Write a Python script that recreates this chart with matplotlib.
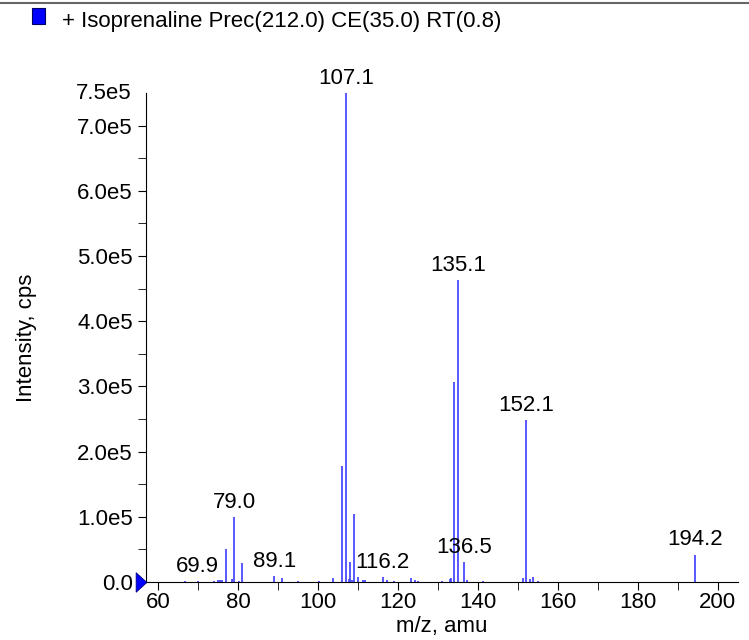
import matplotlib
matplotlib.use('Agg')
import matplotlib.pyplot as plt
from matplotlib.patches import Rectangle
from matplotlib.lines import Line2D

plt.rcParams['font.family'] = ['Liberation Sans', 'DejaVu Sans']

title = '+ Isoprenaline Prec(212.0) CE(35.0) RT(0.8)'

# peak list (m/z, intensity in cps)
mz = [66.8, 69.9, 74.0, 75.0, 75.6, 76.0, 77.0, 78.4, 79.0, 80.2, 81.0,
      89.1, 91.0, 95.0, 100.3, 103.8, 106.1, 107.1, 107.8, 108.1, 108.4,
      109.1, 110.1, 111.3, 111.8, 116.2, 117.2, 119.0, 123.2, 124.3, 125.0,
      131.1, 133.0, 133.3, 134.1, 135.1, 136.5, 137.2, 141.2, 151.2, 152.1,
      153.0, 153.8, 155.1, 194.2]
inten = [1500, 1800, 1500, 2500, 3000, 2500, 50000, 4000, 100000, 1800, 29000,
         9000, 5500, 2000, 1500, 5500, 178000, 750000, 5000, 31000, 3500,
         105000, 7000, 3500, 3000, 8000, 2500, 1500, 5500, 2500, 2000,
         2000, 4000, 6000, 307000, 463000, 31000, 3500, 2000, 6500, 249000,
         4000, 8000, 2000, 42000]

labels = ['69.9', '79.0', '89.1', '107.1', '116.2', '135.1', '136.5', '152.1', '194.2']
label_mz = [69.9, 79.0, 89.1, 107.1, 116.2, 135.1, 136.5, 152.1, 194.2]
label_y = [1800, 100000, 9000, 750000, 8000, 463000, 31000, 249000, 42000]

fs = 16

fig = plt.figure(figsize=(7.49, 6.4), dpi=100)
ax = fig.add_axes([0.195, 0.0906, 0.79, 0.764])

ax.vlines(mz, 0, inten, color='#4a4aff', lw=1.3)
for t, x, y in zip(labels, label_mz, label_y):
    ax.annotate(t, (x, y), xytext=(0, 3), textcoords='offset points',
                ha='center', va='bottom', fontsize=fs)

ax.set_xlim(57, 205)
ax.set_ylim(0, 750000)
ax.spines['top'].set_visible(False)
ax.spines['right'].set_visible(False)

ax.set_xticks(range(60, 201, 20))
ax.set_xticks(range(60, 205, 10), minor=True)
yt = [i * 100000 for i in range(8)]
ax.set_yticks(yt)
ax.set_yticklabels(['0.0'] + ['%.1fe5' % (v / 1e5) for v in yt[1:]])
ax.set_yticks([i * 50000 for i in range(15)], minor=True)
ax.tick_params(labelsize=fs, length=6, direction='out')
ax.tick_params(axis='x', pad=1)
ax.tick_params(which='minor', length=6)
ax.text(-0.024, 1.0, '7.5e5', transform=ax.transAxes, ha='right', va='center', fontsize=fs)

ax.set_xlabel('m/z, amu', fontsize=fs, labelpad=2)
ax.set_ylabel('Intensity, cps', fontsize=fs)
ax.yaxis.set_label_coords(-0.184, 0.5)

# baseline marker
tri = [(-0.55, -1), (0.55, 0), (-0.55, 1), (-0.55, -1)]
ax.plot([-0.0093], [0], marker=tri, color='blue', markersize=14, clip_on=False,
        transform=ax.get_yaxis_transform(), markeredgecolor='#000080',
        markeredgewidth=0.6, zorder=5)

fig.patches.append(Rectangle((32 / 749, 1 - 24 / 640), 13 / 749, 16 / 640,
                             transform=fig.transFigure, facecolor='blue',
                             edgecolor='#000060', lw=0.8))
fig.text(62 / 749, 1 - 27 / 640, title, fontsize=fs, va='baseline')
fig.lines.append(Line2D([0, 1], [1 - 3 / 640, 1 - 3 / 640], transform=fig.transFigure,
                        color='#666666', lw=1.5))

fig.savefig('out.png', dpi=100)
